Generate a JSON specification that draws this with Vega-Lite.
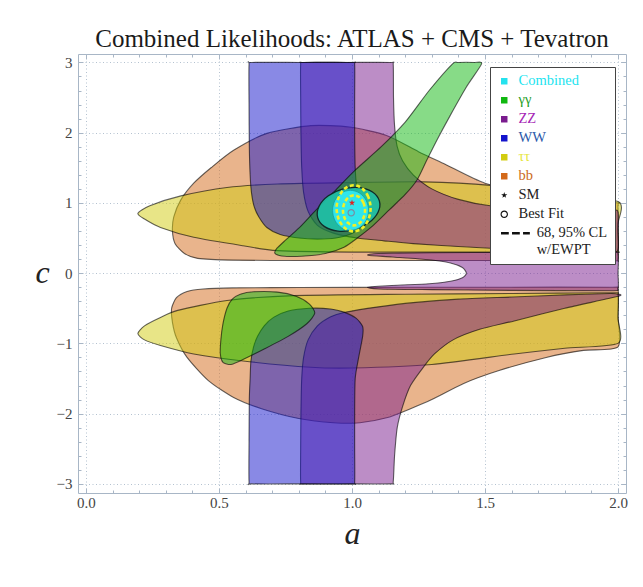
{
"$schema": "https://vega.github.io/schema/vega-lite/v6.json",
"width": 548, "height": 439,
"autosize": {"type": "none"},
"padding": {"left": 78, "top": 54, "right": 17, "bottom": 94},
"background": "#ffffff",
"config": {"view": {"stroke": "#a8b6c6", "strokeWidth": 1}},
"title": {"text": "Combined Likelihoods: ATLAS + CMS + Tevatron", "font": "Liberation Serif", "fontSize": 25, "fontWeight": "normal", "color": "#1a1a1a", "anchor": "middle", "baseline": "alphabetic", "offset": -18},
"datasets": {
"regions": [
{"g":"bbU","e":"bb","i":0,"a":2.0,"c":1.0},{"g":"bbU","e":"bb","i":1,"a":1.85,"c":1.04},{"g":"bbU","e":"bb","i":2,"a":1.7,"c":1.1},{"g":"bbU","e":"bb","i":3,"a":1.5,"c":1.28},{"g":"bbU","e":"bb","i":4,"a":1.35,"c":1.55},{"g":"bbU","e":"bb","i":5,"a":1.25,"c":1.73},{"g":"bbU","e":"bb","i":6,"a":1.13,"c":1.96},{"g":"bbU","e":"bb","i":7,"a":0.99,"c":2.08},{"g":"bbU","e":"bb","i":8,"a":0.845,"c":2.1},{"g":"bbU","e":"bb","i":9,"a":0.68,"c":1.99},{"g":"bbU","e":"bb","i":10,"a":0.555,"c":1.75},{"g":"bbU","e":"bb","i":11,"a":0.47,"c":1.5},{"g":"bbU","e":"bb","i":12,"a":0.405,"c":1.28},{"g":"bbU","e":"bb","i":13,"a":0.356,"c":1.04},{"g":"bbU","e":"bb","i":14,"a":0.33,"c":0.8},{"g":"bbU","e":"bb","i":15,"a":0.325,"c":0.6},{"g":"bbU","e":"bb","i":16,"a":0.335,"c":0.42},{"g":"bbU","e":"bb","i":17,"a":0.37,"c":0.28},{"g":"bbU","e":"bb","i":18,"a":0.42,"c":0.21},{"g":"bbU","e":"bb","i":19,"a":0.55,"c":0.185},{"g":"bbU","e":"bb","i":20,"a":0.8,"c":0.18},{"g":"bbU","e":"bb","i":21,"a":1.2,"c":0.18},{"g":"bbU","e":"bb","i":22,"a":1.6,"c":0.18},{"g":"bbU","e":"bb","i":23,"a":1.97,"c":0.18},{"g":"bbU","e":"bb","i":24,"a":2.0,"c":0.2},{"g":"bbU","e":"bb","i":25,"a":2.0,"c":0.6},{"g":"bbU","e":"bb","i":26,"a":2.0,"c":0.97},
{"g":"bbL","e":"bb","i":0,"a":1.97,"c":-0.2},{"g":"bbL","e":"bb","i":1,"a":1.6,"c":-0.2},{"g":"bbL","e":"bb","i":2,"a":1.2,"c":-0.2},{"g":"bbL","e":"bb","i":3,"a":0.8,"c":-0.205},{"g":"bbL","e":"bb","i":4,"a":0.55,"c":-0.21},{"g":"bbL","e":"bb","i":5,"a":0.44,"c":-0.225},{"g":"bbL","e":"bb","i":6,"a":0.38,"c":-0.26},{"g":"bbL","e":"bb","i":7,"a":0.34,"c":-0.35},{"g":"bbL","e":"bb","i":8,"a":0.322,"c":-0.5},{"g":"bbL","e":"bb","i":9,"a":0.325,"c":-0.7},{"g":"bbL","e":"bb","i":10,"a":0.34,"c":-0.92},{"g":"bbL","e":"bb","i":11,"a":0.38,"c":-1.2},{"g":"bbL","e":"bb","i":12,"a":0.46,"c":-1.53},{"g":"bbL","e":"bb","i":13,"a":0.555,"c":-1.77},{"g":"bbL","e":"bb","i":14,"a":0.66,"c":-1.93},{"g":"bbL","e":"bb","i":15,"a":0.8,"c":-2.07},{"g":"bbL","e":"bb","i":16,"a":0.93,"c":-2.13},{"g":"bbL","e":"bb","i":17,"a":1.03,"c":-2.13},{"g":"bbL","e":"bb","i":18,"a":1.13,"c":-2.06},{"g":"bbL","e":"bb","i":19,"a":1.22,"c":-1.93},{"g":"bbL","e":"bb","i":20,"a":1.3,"c":-1.8},{"g":"bbL","e":"bb","i":21,"a":1.42,"c":-1.57},{"g":"bbL","e":"bb","i":22,"a":1.55,"c":-1.39},{"g":"bbL","e":"bb","i":23,"a":1.73,"c":-1.2},{"g":"bbL","e":"bb","i":24,"a":1.87,"c":-1.1},{"g":"bbL","e":"bb","i":25,"a":2.0,"c":-1.05},{"g":"bbL","e":"bb","i":26,"a":2.0,"c":-0.6},{"g":"bbL","e":"bb","i":27,"a":2.0,"c":-0.23},
{"g":"ttU","e":"ττ","i":0,"a":0.195,"c":0.85},{"g":"ttU","e":"ττ","i":1,"a":0.24,"c":0.96},{"g":"ttU","e":"ττ","i":2,"a":0.357,"c":1.1},{"g":"ttU","e":"ττ","i":3,"a":0.53,"c":1.22},{"g":"ttU","e":"ττ","i":4,"a":0.72,"c":1.27},{"g":"ttU","e":"ττ","i":5,"a":1.0,"c":1.29},{"g":"ttU","e":"ττ","i":6,"a":1.27,"c":1.3},{"g":"ttU","e":"ττ","i":7,"a":1.52,"c":1.25},{"g":"ttU","e":"ττ","i":8,"a":1.75,"c":1.13},{"g":"ttU","e":"ττ","i":9,"a":2.0,"c":1.02},{"g":"ttU","e":"ττ","i":10,"a":2.0,"c":0.7},{"g":"ttU","e":"ττ","i":11,"a":2.0,"c":0.33},{"g":"ttU","e":"ττ","i":12,"a":1.97,"c":0.3},{"g":"ttU","e":"ττ","i":13,"a":1.5,"c":0.3},{"g":"ttU","e":"ττ","i":14,"a":1.0,"c":0.3},{"g":"ttU","e":"ττ","i":15,"a":0.72,"c":0.32},{"g":"ttU","e":"ττ","i":16,"a":0.59,"c":0.39},{"g":"ttU","e":"ττ","i":17,"a":0.405,"c":0.51},{"g":"ttU","e":"ττ","i":18,"a":0.28,"c":0.65},{"g":"ttU","e":"ττ","i":19,"a":0.22,"c":0.77},
{"g":"ttL","e":"ττ","i":0,"a":0.195,"c":-0.86},{"g":"ttL","e":"ττ","i":1,"a":0.22,"c":-0.75},{"g":"ttL","e":"ττ","i":2,"a":0.28,"c":-0.63},{"g":"ttL","e":"ττ","i":3,"a":0.345,"c":-0.53},{"g":"ttL","e":"ττ","i":4,"a":0.53,"c":-0.39},{"g":"ttL","e":"ττ","i":5,"a":0.78,"c":-0.32},{"g":"ttL","e":"ττ","i":6,"a":1.2,"c":-0.3},{"g":"ttL","e":"ττ","i":7,"a":1.6,"c":-0.29},{"g":"ttL","e":"ττ","i":8,"a":1.97,"c":-0.28},{"g":"ttL","e":"ττ","i":9,"a":2.0,"c":-0.31},{"g":"ttL","e":"ττ","i":10,"a":2.0,"c":-0.65},{"g":"ttL","e":"ττ","i":11,"a":2.0,"c":-1.0},{"g":"ttL","e":"ττ","i":12,"a":1.8,"c":-1.07},{"g":"ttL","e":"ττ","i":13,"a":1.61,"c":-1.15},{"g":"ttL","e":"ττ","i":14,"a":1.3,"c":-1.3},{"g":"ttL","e":"ττ","i":15,"a":1.0,"c":-1.35},{"g":"ttL","e":"ττ","i":16,"a":0.845,"c":-1.34},{"g":"ttL","e":"ττ","i":17,"a":0.59,"c":-1.25},{"g":"ttL","e":"ττ","i":18,"a":0.405,"c":-1.15},{"g":"ttL","e":"ττ","i":19,"a":0.28,"c":-1.03},{"g":"ttL","e":"ττ","i":20,"a":0.22,"c":-0.95},
{"g":"ZZU","e":"ZZ","i":0,"a":0.807,"c":2.97},{"g":"ZZU","e":"ZZ","i":1,"a":0.807,"c":2.5},{"g":"ZZU","e":"ZZ","i":2,"a":0.808,"c":2.0},{"g":"ZZU","e":"ZZ","i":3,"a":0.811,"c":1.5},{"g":"ZZU","e":"ZZ","i":4,"a":0.818,"c":1.15},{"g":"ZZU","e":"ZZ","i":5,"a":0.835,"c":0.88},{"g":"ZZU","e":"ZZ","i":6,"a":0.87,"c":0.68},{"g":"ZZU","e":"ZZ","i":7,"a":0.93,"c":0.57},{"g":"ZZU","e":"ZZ","i":8,"a":1.02,"c":0.5},{"g":"ZZU","e":"ZZ","i":9,"a":1.12,"c":0.46},{"g":"ZZU","e":"ZZ","i":10,"a":1.23,"c":0.42},{"g":"ZZU","e":"ZZ","i":11,"a":1.4,"c":0.38},{"g":"ZZU","e":"ZZ","i":12,"a":1.6,"c":0.34},{"g":"ZZU","e":"ZZ","i":13,"a":1.8,"c":0.31},{"g":"ZZU","e":"ZZ","i":14,"a":1.97,"c":0.3},{"g":"ZZU","e":"ZZ","i":15,"a":2.0,"c":0.33},{"g":"ZZU","e":"ZZ","i":16,"a":2.0,"c":0.6},{"g":"ZZU","e":"ZZ","i":17,"a":2.0,"c":0.87},{"g":"ZZU","e":"ZZ","i":18,"a":1.97,"c":0.9},{"g":"ZZU","e":"ZZ","i":19,"a":1.7,"c":0.92},{"g":"ZZU","e":"ZZ","i":20,"a":1.52,"c":0.96},{"g":"ZZU","e":"ZZ","i":21,"a":1.4,"c":1.05},{"g":"ZZU","e":"ZZ","i":22,"a":1.3,"c":1.2},{"g":"ZZU","e":"ZZ","i":23,"a":1.23,"c":1.4},{"g":"ZZU","e":"ZZ","i":24,"a":1.19,"c":1.6},{"g":"ZZU","e":"ZZ","i":25,"a":1.17,"c":1.8},{"g":"ZZU","e":"ZZ","i":26,"a":1.16,"c":2.1},{"g":"ZZU","e":"ZZ","i":27,"a":1.156,"c":2.5},{"g":"ZZU","e":"ZZ","i":28,"a":1.155,"c":2.97},{"g":"ZZU","e":"ZZ","i":29,"a":1.145,"c":3.0},{"g":"ZZU","e":"ZZ","i":30,"a":0.98,"c":3.0},{"g":"ZZU","e":"ZZ","i":31,"a":0.817,"c":3.0},
{"g":"ZZL","e":"ZZ","i":0,"a":0.807,"c":-2.97},{"g":"ZZL","e":"ZZ","i":1,"a":0.807,"c":-2.5},{"g":"ZZL","e":"ZZ","i":2,"a":0.808,"c":-2.0},{"g":"ZZL","e":"ZZ","i":3,"a":0.811,"c":-1.5},{"g":"ZZL","e":"ZZ","i":4,"a":0.818,"c":-1.2},{"g":"ZZL","e":"ZZ","i":5,"a":0.835,"c":-0.95},{"g":"ZZL","e":"ZZ","i":6,"a":0.87,"c":-0.75},{"g":"ZZL","e":"ZZ","i":7,"a":0.92,"c":-0.62},{"g":"ZZL","e":"ZZ","i":8,"a":0.97,"c":-0.56},{"g":"ZZL","e":"ZZ","i":9,"a":1.1,"c":-0.48},{"g":"ZZL","e":"ZZ","i":10,"a":1.23,"c":-0.42},{"g":"ZZL","e":"ZZ","i":11,"a":1.4,"c":-0.37},{"g":"ZZL","e":"ZZ","i":12,"a":1.6,"c":-0.34},{"g":"ZZL","e":"ZZ","i":13,"a":1.8,"c":-0.31},{"g":"ZZL","e":"ZZ","i":14,"a":1.97,"c":-0.29},{"g":"ZZL","e":"ZZ","i":15,"a":2.0,"c":-0.3},{"g":"ZZL","e":"ZZ","i":16,"a":2.0,"c":-0.33},{"g":"ZZL","e":"ZZ","i":17,"a":1.8,"c":-0.5},{"g":"ZZL","e":"ZZ","i":18,"a":1.61,"c":-0.68},{"g":"ZZL","e":"ZZ","i":19,"a":1.48,"c":-0.8},{"g":"ZZL","e":"ZZ","i":20,"a":1.38,"c":-0.95},{"g":"ZZL","e":"ZZ","i":21,"a":1.31,"c":-1.15},{"g":"ZZL","e":"ZZ","i":22,"a":1.27,"c":-1.33},{"g":"ZZL","e":"ZZ","i":23,"a":1.22,"c":-1.6},{"g":"ZZL","e":"ZZ","i":24,"a":1.19,"c":-1.9},{"g":"ZZL","e":"ZZ","i":25,"a":1.17,"c":-2.2},{"g":"ZZL","e":"ZZ","i":26,"a":1.16,"c":-2.6},{"g":"ZZL","e":"ZZ","i":27,"a":1.155,"c":-2.97},{"g":"ZZL","e":"ZZ","i":28,"a":1.145,"c":-3.0},{"g":"ZZL","e":"ZZ","i":29,"a":0.98,"c":-3.0},{"g":"ZZL","e":"ZZ","i":30,"a":0.817,"c":-3.0},
{"g":"ZZC","e":"ZZ","i":0,"a":1.43,"c":0.0},{"g":"ZZC","e":"ZZ","i":1,"a":1.415,"c":0.08},{"g":"ZZC","e":"ZZ","i":2,"a":1.37,"c":0.145},{"g":"ZZC","e":"ZZ","i":3,"a":1.29,"c":0.19},{"g":"ZZC","e":"ZZ","i":4,"a":1.15,"c":0.23},{"g":"ZZC","e":"ZZ","i":5,"a":1.06,"c":0.255},{"g":"ZZC","e":"ZZ","i":6,"a":1.1,"c":0.28},{"g":"ZZC","e":"ZZ","i":7,"a":1.3,"c":0.29},{"g":"ZZC","e":"ZZ","i":8,"a":1.6,"c":0.295},{"g":"ZZC","e":"ZZ","i":9,"a":1.97,"c":0.3},{"g":"ZZC","e":"ZZ","i":10,"a":2.0,"c":0.27},{"g":"ZZC","e":"ZZ","i":11,"a":2.0,"c":0.0},{"g":"ZZC","e":"ZZ","i":12,"a":2.0,"c":-0.22},{"g":"ZZC","e":"ZZ","i":13,"a":1.97,"c":-0.25},{"g":"ZZC","e":"ZZ","i":14,"a":1.6,"c":-0.245},{"g":"ZZC","e":"ZZ","i":15,"a":1.3,"c":-0.235},{"g":"ZZC","e":"ZZ","i":16,"a":1.1,"c":-0.225},{"g":"ZZC","e":"ZZ","i":17,"a":1.06,"c":-0.2},{"g":"ZZC","e":"ZZ","i":18,"a":1.15,"c":-0.175},{"g":"ZZC","e":"ZZ","i":19,"a":1.29,"c":-0.15},{"g":"ZZC","e":"ZZ","i":20,"a":1.37,"c":-0.115},{"g":"ZZC","e":"ZZ","i":21,"a":1.415,"c":-0.065},
{"g":"WWU","e":"WW","i":0,"a":0.613,"c":2.97},{"g":"WWU","e":"WW","i":1,"a":0.613,"c":2.4},{"g":"WWU","e":"WW","i":2,"a":0.614,"c":1.8},{"g":"WWU","e":"WW","i":3,"a":0.617,"c":1.4},{"g":"WWU","e":"WW","i":4,"a":0.622,"c":1.15},{"g":"WWU","e":"WW","i":5,"a":0.632,"c":0.95},{"g":"WWU","e":"WW","i":6,"a":0.65,"c":0.8},{"g":"WWU","e":"WW","i":7,"a":0.68,"c":0.65},{"g":"WWU","e":"WW","i":8,"a":0.73,"c":0.55},{"g":"WWU","e":"WW","i":9,"a":0.8,"c":0.5},{"g":"WWU","e":"WW","i":10,"a":0.87,"c":0.485},{"g":"WWU","e":"WW","i":11,"a":0.94,"c":0.5},{"g":"WWU","e":"WW","i":12,"a":0.99,"c":0.55},{"g":"WWU","e":"WW","i":13,"a":1.025,"c":0.63},{"g":"WWU","e":"WW","i":14,"a":1.04,"c":0.75},{"g":"WWU","e":"WW","i":15,"a":1.035,"c":0.9},{"g":"WWU","e":"WW","i":16,"a":1.02,"c":1.15},{"g":"WWU","e":"WW","i":17,"a":1.012,"c":1.5},{"g":"WWU","e":"WW","i":18,"a":1.01,"c":2.0},{"g":"WWU","e":"WW","i":19,"a":1.01,"c":2.5},{"g":"WWU","e":"WW","i":20,"a":1.01,"c":2.97},{"g":"WWU","e":"WW","i":21,"a":1.0,"c":3.0},{"g":"WWU","e":"WW","i":22,"a":0.81,"c":3.0},{"g":"WWU","e":"WW","i":23,"a":0.623,"c":3.0},
{"g":"WWL","e":"WW","i":0,"a":0.613,"c":-2.97},{"g":"WWL","e":"WW","i":1,"a":0.613,"c":-2.4},{"g":"WWL","e":"WW","i":2,"a":0.614,"c":-1.8},{"g":"WWL","e":"WW","i":3,"a":0.617,"c":-1.5},{"g":"WWL","e":"WW","i":4,"a":0.62,"c":-1.25},{"g":"WWL","e":"WW","i":5,"a":0.63,"c":-1.05},{"g":"WWL","e":"WW","i":6,"a":0.645,"c":-0.9},{"g":"WWL","e":"WW","i":7,"a":0.67,"c":-0.75},{"g":"WWL","e":"WW","i":8,"a":0.705,"c":-0.63},{"g":"WWL","e":"WW","i":9,"a":0.76,"c":-0.54},{"g":"WWL","e":"WW","i":10,"a":0.84,"c":-0.5},{"g":"WWL","e":"WW","i":11,"a":0.92,"c":-0.51},{"g":"WWL","e":"WW","i":12,"a":0.97,"c":-0.555},{"g":"WWL","e":"WW","i":13,"a":1.015,"c":-0.64},{"g":"WWL","e":"WW","i":14,"a":1.04,"c":-0.76},{"g":"WWL","e":"WW","i":15,"a":1.04,"c":-0.9},{"g":"WWL","e":"WW","i":16,"a":1.025,"c":-1.2},{"g":"WWL","e":"WW","i":17,"a":1.012,"c":-1.5},{"g":"WWL","e":"WW","i":18,"a":1.01,"c":-2.0},{"g":"WWL","e":"WW","i":19,"a":1.01,"c":-2.5},{"g":"WWL","e":"WW","i":20,"a":1.01,"c":-2.97},{"g":"WWL","e":"WW","i":21,"a":1.0,"c":-3.0},{"g":"WWL","e":"WW","i":22,"a":0.81,"c":-3.0},{"g":"WWL","e":"WW","i":23,"a":0.623,"c":-3.0},
{"g":"ggU","e":"γγ","i":0,"a":1.378,"c":2.98},{"g":"ggU","e":"γγ","i":1,"a":1.29,"c":2.6},{"g":"ggU","e":"γγ","i":2,"a":1.2,"c":2.15},{"g":"ggU","e":"γγ","i":3,"a":1.11,"c":1.8},{"g":"ggU","e":"γγ","i":4,"a":1.01,"c":1.46},{"g":"ggU","e":"γγ","i":5,"a":0.93,"c":1.15},{"g":"ggU","e":"γγ","i":6,"a":0.86,"c":0.88},{"g":"ggU","e":"γγ","i":7,"a":0.8,"c":0.64},{"g":"ggU","e":"γγ","i":8,"a":0.75,"c":0.47},{"g":"ggU","e":"γγ","i":9,"a":0.718,"c":0.355},{"g":"ggU","e":"γγ","i":10,"a":0.71,"c":0.285},{"g":"ggU","e":"γγ","i":11,"a":0.735,"c":0.245},{"g":"ggU","e":"γγ","i":12,"a":0.81,"c":0.24},{"g":"ggU","e":"γγ","i":13,"a":0.9,"c":0.28},{"g":"ggU","e":"γγ","i":14,"a":0.97,"c":0.37},{"g":"ggU","e":"γγ","i":15,"a":1.02,"c":0.5},{"g":"ggU","e":"γγ","i":16,"a":1.08,"c":0.68},{"g":"ggU","e":"γγ","i":17,"a":1.14,"c":0.9},{"g":"ggU","e":"γγ","i":18,"a":1.2,"c":1.12},{"g":"ggU","e":"γγ","i":19,"a":1.245,"c":1.33},{"g":"ggU","e":"γγ","i":20,"a":1.28,"c":1.6},{"g":"ggU","e":"γγ","i":21,"a":1.32,"c":1.9},{"g":"ggU","e":"γγ","i":22,"a":1.37,"c":2.25},{"g":"ggU","e":"γγ","i":23,"a":1.43,"c":2.65},{"g":"ggU","e":"γγ","i":24,"a":1.487,"c":2.98},{"g":"ggU","e":"γγ","i":25,"a":1.46,"c":3.0},{"g":"ggU","e":"γγ","i":26,"a":1.4,"c":3.0},
{"g":"ggL","e":"γγ","i":0,"a":0.55,"c":-0.37},{"g":"ggL","e":"γγ","i":1,"a":0.58,"c":-0.3},{"g":"ggL","e":"γγ","i":2,"a":0.63,"c":-0.265},{"g":"ggL","e":"γγ","i":3,"a":0.72,"c":-0.27},{"g":"ggL","e":"γγ","i":4,"a":0.79,"c":-0.33},{"g":"ggL","e":"γγ","i":5,"a":0.84,"c":-0.44},{"g":"ggL","e":"γγ","i":6,"a":0.86,"c":-0.57},{"g":"ggL","e":"γγ","i":7,"a":0.83,"c":-0.72},{"g":"ggL","e":"γγ","i":8,"a":0.76,"c":-0.9},{"g":"ggL","e":"γγ","i":9,"a":0.67,"c":-1.08},{"g":"ggL","e":"γγ","i":10,"a":0.59,"c":-1.23},{"g":"ggL","e":"γγ","i":11,"a":0.545,"c":-1.3},{"g":"ggL","e":"γγ","i":12,"a":0.515,"c":-1.27},{"g":"ggL","e":"γγ","i":13,"a":0.505,"c":-1.15},{"g":"ggL","e":"γγ","i":14,"a":0.507,"c":-0.95},{"g":"ggL","e":"γγ","i":15,"a":0.515,"c":-0.72},{"g":"ggL","e":"γγ","i":16,"a":0.53,"c":-0.5}
],
"combined95": [
{"i":0,"a":1.103,"c":1.027},{"i":1,"a":1.077,"c":1.156},{"i":2,"a":1.027,"c":1.219},{"i":3,"a":0.967,"c":1.199},{"i":4,"a":0.911,"c":1.101},{"i":5,"a":0.876,"c":0.951},{"i":6,"a":0.871,"c":0.791},{"i":7,"a":0.897,"c":0.662},{"i":8,"a":0.947,"c":0.599},{"i":9,"a":1.007,"c":0.619},{"i":10,"a":1.063,"c":0.717},{"i":11,"a":1.098,"c":0.867}
],
"combined68": [
{"i":0,"a":1.062,"c":0.894},{"i":1,"a":1.053,"c":1.037},{"i":2,"a":1.028,"c":1.141},{"i":3,"a":0.994,"c":1.179},{"i":4,"a":0.96,"c":1.141},{"i":5,"a":0.936,"c":1.037},{"i":6,"a":0.927,"c":0.894},{"i":7,"a":0.936,"c":0.751},{"i":8,"a":0.96,"c":0.647},{"i":9,"a":0.994,"c":0.609},{"i":10,"a":1.028,"c":0.647},{"i":11,"a":1.053,"c":0.751}
],
"ewpt": [
{"g":"95","i":0,"a":1.07,"c":0.923},{"g":"95","i":1,"a":1.061,"c":1.087},{"g":"95","i":2,"a":1.038,"c":1.207},{"g":"95","i":3,"a":1.006,"c":1.251},{"g":"95","i":4,"a":0.974,"c":1.207},{"g":"95","i":5,"a":0.951,"c":1.087},{"g":"95","i":6,"a":0.942,"c":0.923},{"g":"95","i":7,"a":0.951,"c":0.759},{"g":"95","i":8,"a":0.974,"c":0.639},{"g":"95","i":9,"a":1.006,"c":0.595},{"g":"95","i":10,"a":1.038,"c":0.639},{"g":"95","i":11,"a":1.061,"c":0.759},
{"g":"68","i":0,"a":1.049,"c":0.894},{"g":"68","i":1,"a":1.043,"c":1.001},{"g":"68","i":2,"a":1.028,"c":1.079},{"g":"68","i":3,"a":1.008,"c":1.108},{"g":"68","i":4,"a":0.987,"c":1.079},{"g":"68","i":5,"a":0.972,"c":1.001},{"g":"68","i":6,"a":0.966,"c":0.894},{"g":"68","i":7,"a":0.972,"c":0.787},{"g":"68","i":8,"a":0.987,"c":0.709},{"g":"68","i":9,"a":1.008,"c":0.68},{"g":"68","i":10,"a":1.028,"c":0.709},{"g":"68","i":11,"a":1.043,"c":0.787}
],
"points": [
{"e":"Best Fit","a":0.997,"c":0.86},
{"e":"SM","a":1.0,"c":1.0}
]
},
"resolve": {"axis": {"x": "independent", "y": "independent"}},
"layer": [
{
"data": {"name": "regions"},
"mark": {"type": "line", "interpolate": "cardinal-closed", "tension": 0.3},
"encoding": {
"x": {"field": "a", "type": "quantitative", "scale": {"domain": [-0.03, 2.03], "nice": false, "zero": false},
 "axis": {"orient": "bottom", "values": [0, 0.5, 1, 1.5, 2], "format": ".1f", "grid": true, "gridColor": "#b4c2d0", "gridDash": [1, 2.5], "gridWidth": 1, "domain": false, "tickSize": -5, "tickColor": "#a8b6c6", "labelFont": "Liberation Serif", "labelFontSize": 15, "labelColor": "#444444", "labelPadding": 7, "title": "a", "titleFont": "Liberation Serif", "titleFontSize": 32, "titleFontStyle": "italic", "titleFontWeight": "normal", "titleColor": "#222222", "titleY": 50, "titleBaseline": "alphabetic"}},
"y": {"field": "c", "type": "quantitative", "scale": {"domain": [-3.13, 3.12], "nice": false, "zero": false},
 "axis": {"orient": "left", "values": [-3, -2, -1, 0, 1, 2, 3], "format": "d", "grid": true, "gridColor": "#b4c2d0", "gridDash": [1, 2.5], "gridWidth": 1, "domain": false, "tickSize": -5, "tickColor": "#a8b6c6", "labelFont": "Liberation Serif", "labelFontSize": 15, "labelColor": "#444444", "labelPadding": 11, "title": "c", "titleFont": "Liberation Serif", "titleFontSize": 32, "titleFontStyle": "italic", "titleFontWeight": "normal", "titleColor": "#222222", "titleAngle": 0, "titleX": -36, "titleY": 228, "titleAlign": "center", "titleBaseline": "alphabetic"}},
"order": {"field": "i", "type": "quantitative"},
"detail": {"field": "g", "type": "nominal"},
"fill": {"field": "e", "type": "nominal",
 "scale": {"domain": ["Combined", "γγ", "ZZ", "WW", "ττ", "bb", "SM", "Best Fit", "68, 95% CL"], "range": ["#24e2ee", "#10b810", "#7a1c8e", "#1414cc", "#d2cc10", "#d36919", "#111111", "#111111", "#111111"]},
 "legend": {"orient": "none", "legendX": 412, "legendY": 13, "title": null, "symbolSize": 42, "symbolStrokeWidth": 0, "symbolOpacity": 1, "labelFont": "Liberation Serif", "labelFontSize": 14.5, "labelOffset": 7, "rowPadding": 4, "padding": 7, "strokeColor": "#444444", "fillColor": "#ffffff", "labelLimit": 200,
  "labelExpr": "datum.value === '68, 95% CL' ? ['\u200b\u00a0\u00a0\u00a0\u00a0\u00a068, 95% CL', '\u200b\u00a0\u00a0\u00a0\u00a0\u00a0w/EWPT'] : datum.label",
  "labelColor": {"expr": "datum.value === 'Combined' ? '#22e4f0' : datum.value === 'γγ' ? '#1e9e1e' : datum.value === 'ZZ' ? '#a626b6' : datum.value === 'WW' ? '#2a5aaa' : datum.value === 'ττ' ? '#e6e640' : datum.value === 'bb' ? '#cc6a1c' : '#222222'"}
 }},
"fillOpacity": {"value": 0.5},
"stroke": {"value": "#000000"},
"strokeOpacity": {"value": 0.6},
"strokeWidth": {"value": 1.1}
}
},
{
"data": {"name": "combined95"},
"mark": {"type": "line", "interpolate": "cardinal-closed", "fill": "#1fbfa6", "fillOpacity": 0.92, "stroke": "#102a28", "strokeWidth": 1.3},
"encoding": {
"x": {"field": "a", "type": "quantitative", "scale": {"domain": [-0.03, 2.03], "nice": false, "zero": false}, "axis": {"orient": "top", "values": [0, 0.5, 1, 1.5, 2], "labels": false, "grid": false, "domain": false, "tickSize": -5, "tickColor": "#a8b6c6", "title": null}},
"y": {"field": "c", "type": "quantitative", "scale": {"domain": [-3.13, 3.12], "nice": false, "zero": false}, "axis": {"orient": "right", "values": [-3, -2, -1, 0, 1, 2, 3], "labels": false, "grid": false, "domain": false, "tickSize": -5, "tickColor": "#a8b6c6", "title": null}},
"order": {"field": "i", "type": "quantitative"}
}
},
{
"data": {"name": "combined68"},
"mark": {"type": "line", "interpolate": "cardinal-closed", "fill": "#30e8f0", "fillOpacity": 0.95, "stroke": "#15a0a0", "strokeWidth": 0.8},
"encoding": {
"x": {"field": "a", "type": "quantitative", "scale": {"domain": [-0.03, 2.03], "nice": false, "zero": false}, "axis": {"orient": "bottom", "values": [0.1, 0.2, 0.3, 0.4, 0.6, 0.7, 0.8, 0.9, 1.1, 1.2, 1.3, 1.4, 1.6, 1.7, 1.8, 1.9], "labels": false, "grid": false, "domain": false, "tickSize": -3, "tickColor": "#a8b6c6", "title": null}},
"y": {"field": "c", "type": "quantitative", "scale": {"domain": [-3.13, 3.12], "nice": false, "zero": false}, "axis": {"orient": "left", "values": [-2.8, -2.6, -2.4, -2.2, -1.8, -1.6, -1.4, -1.2, -0.8, -0.6, -0.4, -0.2, 0.2, 0.4, 0.6, 0.8, 1.2, 1.4, 1.6, 1.8, 2.2, 2.4, 2.6, 2.8], "labels": false, "grid": false, "domain": false, "tickSize": -3, "tickColor": "#a8b6c6", "title": null}},
"order": {"field": "i", "type": "quantitative"}
}
},
{
"data": {"name": "ewpt"},
"mark": {"type": "line", "interpolate": "cardinal-closed", "stroke": "#f0f028", "strokeWidth": 2.6, "strokeDash": [4, 2.5]},
"encoding": {
"x": {"field": "a", "type": "quantitative", "scale": {"domain": [-0.03, 2.03], "nice": false, "zero": false}, "axis": {"orient": "top", "values": [0.1, 0.2, 0.3, 0.4, 0.6, 0.7, 0.8, 0.9, 1.1, 1.2, 1.3, 1.4, 1.6, 1.7, 1.8, 1.9], "labels": false, "grid": false, "domain": false, "tickSize": -3, "tickColor": "#a8b6c6", "title": null}},
"y": {"field": "c", "type": "quantitative", "scale": {"domain": [-3.13, 3.12], "nice": false, "zero": false}, "axis": {"orient": "right", "values": [-2.8, -2.6, -2.4, -2.2, -1.8, -1.6, -1.4, -1.2, -0.8, -0.6, -0.4, -0.2, 0.2, 0.4, 0.6, 0.8, 1.2, 1.4, 1.6, 1.8, 2.2, 2.4, 2.6, 2.8], "labels": false, "grid": false, "domain": false, "tickSize": -3, "tickColor": "#a8b6c6", "title": null}},
"order": {"field": "i", "type": "quantitative"},
"detail": {"field": "g", "type": "nominal"}
}
},
{
"data": {"name": "points"},
"transform": [{"filter": "datum.e === 'Best Fit'"}],
"mark": {"type": "point", "filled": true, "fill": "#7a8aa0", "size": 42, "opacity": 1, "strokeWidth": 0},
"encoding": {
"x": {"field": "a", "type": "quantitative", "scale": {"domain": [-0.03, 2.03], "nice": false, "zero": false}, "axis": null},
"y": {"field": "c", "type": "quantitative", "scale": {"domain": [-3.13, 3.12], "nice": false, "zero": false}, "axis": null},
"shape": {"field": "e", "type": "nominal",
 "scale": {"domain": ["Combined", "γγ", "ZZ", "WW", "ττ", "bb", "SM", "Best Fit", "68, 95% CL"],
  "range": ["square", "square", "square", "square", "square", "square", "M0,-1L0.2245,-0.309L0.9511,-0.309L0.3633,0.118L0.5878,0.809L0,0.382L-0.5878,0.809L-0.3633,0.118L-0.9511,-0.309L-0.2245,-0.309Z", "M-1.15,0A1.15,1.15,0,1,1,1.15,0A1.15,1.15,0,1,1,-1.15,0ZM-0.8,0A0.8,0.8,0,1,0,0.8,0A0.8,0.8,0,1,0,-0.8,0Z", "M-1,-0.4H1.4V0.4H-1ZM2.4,-0.4H4.8V0.4H2.4ZM5.8,-0.4H7.9V0.4H5.8Z"]}}
}
},
{
"data": {"name": "points"},
"transform": [{"filter": "datum.e === 'SM'"}],
"mark": {"type": "point", "filled": true, "fill": "#e02020", "size": 45, "opacity": 1, "strokeWidth": 0},
"encoding": {
"x": {"field": "a", "type": "quantitative", "scale": {"domain": [-0.03, 2.03], "nice": false, "zero": false}, "axis": null},
"y": {"field": "c", "type": "quantitative", "scale": {"domain": [-3.13, 3.12], "nice": false, "zero": false}, "axis": null},
"shape": {"field": "e", "type": "nominal",
 "scale": {"domain": ["Combined", "γγ", "ZZ", "WW", "ττ", "bb", "SM", "Best Fit", "68, 95% CL"],
  "range": ["square", "square", "square", "square", "square", "square", "M0,-1L0.2245,-0.309L0.9511,-0.309L0.3633,0.118L0.5878,0.809L0,0.382L-0.5878,0.809L-0.3633,0.118L-0.9511,-0.309L-0.2245,-0.309Z", "M-1.15,0A1.15,1.15,0,1,1,1.15,0A1.15,1.15,0,1,1,-1.15,0ZM-0.8,0A0.8,0.8,0,1,0,0.8,0A0.8,0.8,0,1,0,-0.8,0Z", "M-1,-0.4H1.4V0.4H-1ZM2.4,-0.4H4.8V0.4H2.4ZM5.8,-0.4H7.9V0.4H5.8Z"]}}
}
}
]
}
